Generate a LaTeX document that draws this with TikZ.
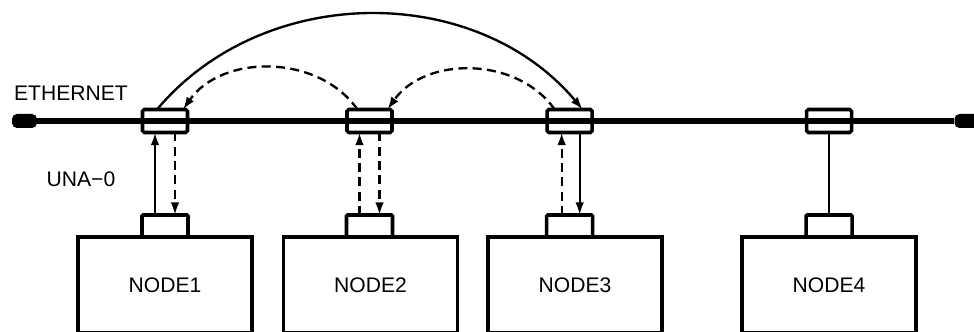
\documentclass[tikz,border=0pt]{standalone}
\usepackage{fontspec}
\setmainfont{Liberation Sans}
\usetikzlibrary{arrows.meta, positioning, calc}

\begin{document}
\begin{tikzpicture}[
    x=0.3mm, y=0.3mm,
    font=\fontsize{18}{21}\selectfont,
    station/.style={rectangle, draw, line width=3.2pt, minimum width=52.2mm, minimum height=28.8mm, inner sep=0pt, outer sep=0pt},
    port/.style={rectangle, draw, line width=3pt, rounded corners=1pt, minimum width=13.8mm, minimum height=6.6mm, inner sep=0pt, outer sep=0pt},
    tap/.style={rectangle, draw, line width=3pt, rounded corners=1.5pt, minimum width=13.5mm, minimum height=6.9mm, inner sep=0pt, outer sep=0pt},
    endcap/.style={rectangle, fill, rounded corners=1.5mm, minimum width=7.5mm, minimum height=4.2mm, inner sep=0pt},
    ether/.style={line width=5pt},
    link/.style={line width=2pt},
    dlink/.style={link, dash pattern=on 2.7mm off 1.6mm},
    tip/.style={-{Latex[length=3.8mm, width=2.6mm]}}
]
\useasboundingbox (0,0) rectangle (974,331);

% stations
\node[station] (n1) at (165,46) {NODE1};
\node[station] (n2) at (370.5,46) {NODE2};
\node[station] (n3) at (575,46) {NODE3};
\node[station] (n4) at (829,46) {NODE4};
\node[port, above=0pt of n1] (p1) {};
\node[port, above=0pt of n2, xshift=-0.3mm] (p2) {};
\node[port, above=0pt of n3, xshift=-1.6mm] (p3) {};
\node[port, above=0pt of n4] (p4) {};

% the cable
\coordinate (bus) at (0,210);
\node[endcap] (lend) at (24.5,210) {};
\node[endcap] (rend) at (967,210) {};
\draw[ether] (lend) -- (rend);
\node[tap] (t1) at (p1 |- bus) {};
\node[tap] (t2) at (p2 |- bus) {};
\node[tap] (t3) at (p3 |- bus) {};
\node[tap] (t4) at (p4 |- bus) {};

\node (ethlbl) at (71,238) {ETHERNET};
\node (unalbl) at (81,152) {UNA−0};

% drops
\draw[link, tip] ($(p1.north)+(-10,0)$) -- ($(t1.south)+(-10,0)$);
\draw[dlink, tip] ($(t1.south)+(10,0)$) -- ($(p1.north)+(10,0)$);
\draw[dlink, tip] ($(p2.north)+(-10,0)$) -- ($(t2.south)+(-10,0)$);
\draw[dlink, tip] ($(t2.south)+(10,0)$) -- ($(p2.north)+(10,0)$);
\draw[dlink, tip] ($(p3.north)+(-8,0)$) -- ($(t3.south)+(-8,0)$);
\draw[link, tip] ($(t3.south)+(10,0)$) -- ($(p3.north)+(10,0)$);
\draw[link] (t4.south) -- (p4.north);

% transfers
\draw[link, tip] ($(t1.north)+(-8,0)$) to[bend left=50] ($(t3.north)+(13,0)$);
\draw[dlink, tip] ($(t2.north)+(-12,0)$) to[bend right=55] ($(t1.north)+(18,0)$);
\draw[dlink, tip] ($(t3.north)+(-15,0)$) to[bend right=55] ($(t2.north)+(18,0)$);
\end{tikzpicture}
\end{document}
